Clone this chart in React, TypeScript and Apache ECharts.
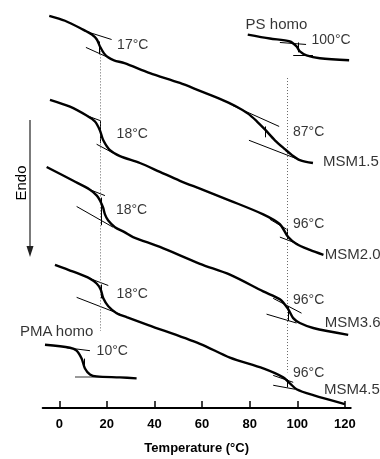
import React, { useEffect, useRef } from "react";
import * as echarts from "echarts";

// x: temperature (°C), y: heat flow (arbitrary units, curves offset)
const xTicks = [0, 20, 40, 60, 80, 100, 120];

const msm15 = [[-4.2,39.7],[2.4,39.2],[10.0,38.3],[13.7,37.8],[15.8,37.3],[17.1,36.6],[18.8,35.9],[20.5,35.5],[23.0,35.2],[27.4,34.9],[38.1,33.9],[50.7,32.9],[59.1,32.1],[67.5,31.3],[73.8,30.6],[79.3,29.8],[83.1,29.0],[86.4,28.2],[90.6,27.1],[94.8,26.2],[97.8,25.6],[101.1,25.1],[106.6,24.8]];
const psHomo = [[79.2,37.8],[88.5,37.4],[96.9,37.1],[99.7,36.6],[101.1,36.1],[103.9,35.7],[109.5,35.4],[121.8,35.2]];
const msm20 = [[-3.9,31.2],[4.5,30.5],[11.5,29.6],[15.0,29.0],[17.1,28.1],[18.5,27.1],[21.3,26.1],[25.5,25.5],[33.9,24.8],[42.3,23.9],[50.7,23.0],[59.1,22.2],[71.7,21.0],[85.7,19.6],[92.7,18.6],[96.2,17.3],[99.7,16.6],[105.3,16.0],[111.0,15.5]];
const msm36 = [[-5.3,24.4],[5.9,23.0],[12.9,22.1],[15.8,21.5],[17.1,21.0],[18.4,20.3],[19.2,19.6],[20.5,19.0],[23.4,18.3],[27.4,17.8],[31.0,17.3],[42.3,16.3],[59.1,14.6],[71.7,13.5],[85.7,11.8],[92.7,11.0],[96.2,10.0],[98.3,9.1],[101.1,8.6],[106.7,8.1],[121.4,7.4]];
const msm45 = [[-1.8,14.5],[5.9,13.8],[12.9,13.1],[15.7,12.6],[17.4,12.0],[18.5,11.1],[20.6,10.3],[24.1,9.6],[28.3,9.2],[37.4,8.4],[59.1,6.5],[71.7,5.1],[85.7,4.0],[94.1,3.1],[96.9,2.5],[99.7,1.9],[106.7,1.3],[120.0,0.4]];
const pmaHomo = [[-6.0,6.4],[4.5,6.1],[7.3,5.8],[9.4,5.0],[10.8,4.0],[12.9,3.4],[15.7,3.2],[25.5,3.1],[32.5,3.0]];

// tangent constructions (onset / offset tangents and Tg marks)
const tangents = [
  [[10.2,38.2],[22.0,37.3]], [[11.2,36.5],[21.3,35.4]], [[16.7,37.1],[16.7,35.8]],
  [[73.0,30.6],[92.4,28.5]], [[79.7,27.1],[99.0,25.3]], [[86.6,28.5],[86.6,27.4]],
  [[92.7,37.0],[103.7,36.8]], [[98.3,35.7],[106.6,35.7]], [[100.3,37.0],[100.3,36.0]],
  [[11.5,29.6],[17.1,29.1]], [[15.7,26.7],[22.7,25.8]], [[17.1,29.1],[17.1,26.8]],
  [[88.5,19.1],[95.5,18.1]], [[92.7,17.3],[100.4,16.6]], [[96.0,18.1],[96.0,17.1]],
  [[12.9,22.1],[19.2,21.5]], [[7.3,20.4],[22.6,18.3]], [[17.5,21.3],[17.5,18.5]],
  [[89.9,11.1],[101.8,9.6]], [[87.1,9.5],[99.7,8.6]], [[96.2,10.3],[96.2,8.8]],
  [[12.9,13.1],[20.6,12.4]], [[7.3,11.2],[25.5,9.5]], [[17.5,12.5],[17.5,11.1]],
  [[89.9,3.3],[98.3,2.6]], [[89.9,2.3],[99.0,1.9]], [[95.9,2.9],[95.9,2.1]],
  [[3.1,6.1],[12.9,5.8]], [[10.4,5.0],[10.4,4.0]],
];
const greyTangents = [[[6.6,3.2],[20.6,3.2]]];
const tgGuides = [[[17.1,36.1],[17.1,7.8]], [[96.0,33.4],[96.0,3.6]]];

const tgLabels = [
  [24.3,36.8,"17°C"], [98.2,28.0,"87°C"], [106.0,37.4,"100°C"],
  [24.1,27.8,"18°C"], [98.2,18.7,"96°C"],
  [23.8,20.1,"18°C"], [98.2,11.0,"96°C"],
  [24.1,11.6,"18°C"], [98.2,3.6,"96°C"],
  [15.7,5.9,"10°C"],
];
const sampleLabels = [
  [78.3,38.9,"PS homo"], [110.8,25.1,"MSM1.5"], [111.6,15.6,"MSM2.0"],
  [111.6,8.8,"MSM3.6"], [111.2,2.0,"MSM4.5"], [-16.5,7.8,"PMA homo"],
];

const FONT = '"Liberation Sans", Arial, Helvetica, sans-serif';

export default function App() {
  const ref = useRef<HTMLDivElement>(null);
  useEffect(() => {
    const chart = echarts.init(ref.current!, null, { renderer: "svg" });
    const curves = [msm15, psHomo, msm20, msm36, msm45, pmaHomo];
    const series: any[] = curves.map((d) => ({
      type: "line",
      data: d,
      smooth: 0.3,
      symbol: "none",
      clip: false,
      silent: true,
      lineStyle: { color: "#000", width: 2.4 },
    }));
    series.push({
      type: "lines",
      coordinateSystem: "cartesian2d",
      data: tangents.map((c) => ({ coords: c })),
      symbol: ["none", "none"],
      silent: true,
      lineStyle: { color: "#000", width: 1, opacity: 1 },
    });
    series.push({
      type: "lines",
      coordinateSystem: "cartesian2d",
      data: greyTangents.map((c) => ({ coords: c })),
      symbol: ["none", "none"],
      silent: true,
      lineStyle: { color: "#777", width: 1.6, opacity: 1 },
    });
    series.push({
      type: "lines",
      coordinateSystem: "cartesian2d",
      data: tgGuides.map((c) => ({ coords: c })),
      symbol: ["none", "none"],
      silent: true,
      lineStyle: { color: "#666", width: 1, type: [1, 2], opacity: 1 },
    });
    const labelSeries = (arr: any[], size: number) => ({
      type: "scatter",
      data: arr,
      symbolSize: 0,
      clip: false,
      silent: true,
      label: {
        show: true,
        position: "right",
        distance: 0,
        formatter: (p: any) => p.data[2],
        fontFamily: FONT,
        fontSize: size,
        color: "#000",
      },
    });
    series.push(labelSeries(tgLabels, 14));
    series.push(labelSeries(sampleLabels, 15));

    chart.setOption({
      animation: false,
      grid: { left: 42.6, right: 29.2, top: 0, bottom: 46 },
      xAxis: {
        type: "value",
        min: -7,
        max: 122.5,
        name: "Temperature (°C)",
        nameLocation: "middle",
        nameGap: 33,
        nameTextStyle: { fontFamily: FONT, fontWeight: "bold", fontSize: 13, color: "#000" },
        axisLine: { lineStyle: { color: "#000", width: 1.8 } },
        axisTick: { inside: true, length: 7, customValues: xTicks, lineStyle: { color: "#000", width: 1.5 } },
        axisLabel: { customValues: xTicks, fontFamily: FONT, fontWeight: "bold", fontSize: 13, color: "#000", margin: 9 },
        splitLine: { show: false },
      },
      yAxis: { type: "value", min: 0, max: 41.3, show: false },
      graphic: [
        { type: "line", shape: { x1: 30, y1: 120, x2: 30, y2: 250 }, style: { stroke: "#333", lineWidth: 1.3 } },
        { type: "polygon", shape: { points: [[26.5, 246], [33.5, 246], [30, 257]] }, style: { fill: "#222" } },
        {
          type: "text", x: 20, y: 183, rotation: Math.PI / 2,
          style: { text: "Endo", font: `15px ${FONT}`, align: "center", verticalAlign: "middle", fill: "#000" },
        },
      ],
      series,
    });
    return () => chart.dispose();
  }, []);
  return <div ref={ref} style={{ position: "fixed", left: 0, top: 0, width: 380, height: 459 }} />;
}
